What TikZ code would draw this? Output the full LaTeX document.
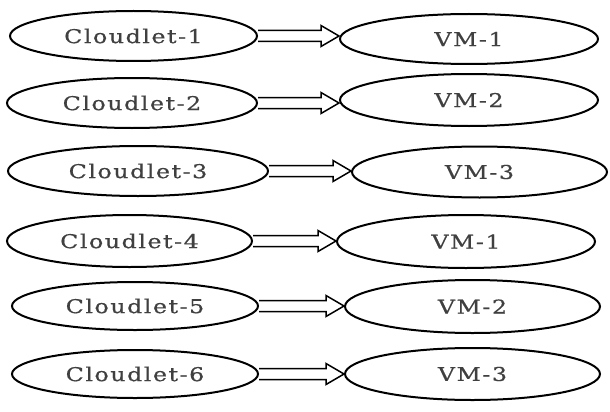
\documentclass[tikz,border=0pt]{standalone}
\usepackage{fontspec}
\usepackage{tikz}
\usetikzlibrary{arrows.meta,positioning,shapes.geometric,calc}
\newfontfamily\cellfont[FakeStretch=1.25,LetterSpace=8,FakeBold=0.6]{DejaVu Serif}

\begin{document}
\begin{tikzpicture}[x=1pt,y=-1pt,
			cell/.style={ellipse,draw,line width=2pt,minimum width=248pt,minimum height=50pt,inner sep=0pt,text=black!75,font=\cellfont\fontsize{19}{22}\selectfont},
			hollow/.style={line width=1.5pt,line join=miter,to path={
					let \p1=(\tikztostart), \p2=(\tikztotarget) in
					(\x1,\y1+5.5pt) -- (\x2-18pt,\y1+5.5pt) -- (\x2-18pt,\y1+10.5pt) -- (\x2,\y1)
					-- (\x2-18pt,\y1-10.5pt) -- (\x2-18pt,\y1-5.5pt) -- (\x1,\y1-5.5pt)}}
			]
			\useasboundingbox (0,0) rectangle (610,412);
			% cloudlets on the left, virtual machines on the right
			\node[cell,minimum width=247pt] (c1) at (133.5,36) {Cloudlet-1};
			\node[cell,minimum width=258pt] (v1) at (469,39) {VM-1};
			\node[cell,minimum width=250pt] (c2) at (132,103) {Cloudlet-2};
			\node[cell,minimum width=258pt,minimum height=52pt] (v2) at (469,100) {VM-2};
			\node[cell,minimum width=260pt] (c3) at (138,171) {Cloudlet-3};
			\node[cell,minimum width=255pt,minimum height=51pt] (v3) at (479.5,172) {VM-3};
			\node[cell,minimum width=245pt,minimum height=52pt] (c4) at (129.5,241) {Cloudlet-4};
			\node[cell,minimum width=258pt,minimum height=53pt] (v4) at (466,241.5) {VM-1};
			\node[cell,minimum width=246pt,minimum height=48pt] (c5) at (135,306) {Cloudlet-5};
			\node[cell,minimum width=255pt,minimum height=53pt] (v5) at (472.5,306.5) {VM-2};
			\node[cell,minimum width=246pt,minimum height=48pt] (c6) at (135,374) {Cloudlet-6};
			\node[cell,minimum width=255pt,minimum height=52pt] (v6) at (472.5,374) {VM-3};
			% allocation arrows
			\draw[hollow] (c1.east) to (v1.west);
			\draw[hollow] (c2.east) to (v2.west);
			\draw[hollow] (c3.east) to (v3.west);
			\draw[hollow] (c4.east) to (v4.west);
			\draw[hollow] (c5.east) to (v5.west);
			\draw[hollow] (c6.east) to (v6.west);
		\end{tikzpicture}
\end{document}
